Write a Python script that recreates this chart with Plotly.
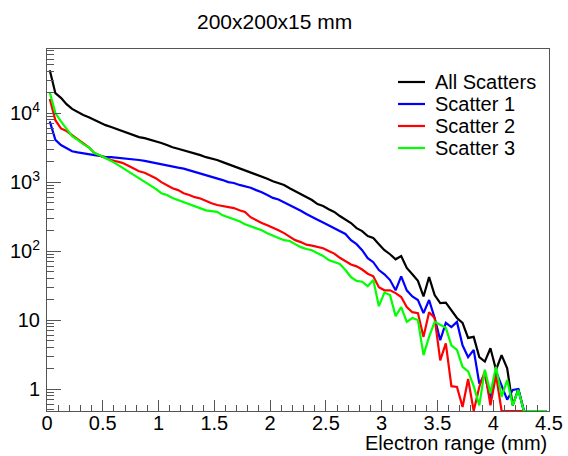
import math
import plotly.graph_objects as go

# ---- data ----
bin_width = 0.05
n_bins = 90
bin_centers = [round(bin_width * (i + 0.5), 4) for i in range(n_bins)]

all_scatters = [42000, 19500, 16700, 13500, 11500, 10300, 9400, 8700, 7900, 7200,
                6700, 6300, 5900, 5500, 5100, 4800, 4500, 4350, 4150, 3900,
                3700, 3450, 3200, 3050, 2900, 2770, 2640, 2460, 2300, 2200,
                2090, 1950, 1820, 1700, 1590, 1490, 1390, 1300, 1220, 1120,
                1030, 970, 910, 815, 740, 670, 605, 550, 480, 450,
                405, 370, 322, 290, 255, 215, 195, 165, 155, 126,
                103, 90, 76, 85, 57, 46, 37, 22, 42, 23,
                17.6, 17.9, 14, 10.7, 9.1, 5.5, 5.7, 2.9, 2.5, 3.9,
                1.9, 3.1, 2.0, 0.58, 1.0, 0, 0, 0, 0, 0]

scatter_1 = [7600, 4100, 3450, 3100, 2800, 2700, 2600, 2550, 2460, 2400,
             2300, 2300, 2260, 2230, 2200, 2150, 2090, 2030, 1950, 1900,
             1820, 1760, 1680, 1620, 1570, 1490, 1420, 1350, 1260, 1200,
             1140, 1070, 1000, 970, 910, 880, 830, 765, 715, 650,
             590, 560, 510, 465, 430, 385, 345, 310, 285, 260,
             235, 218, 195, 177, 144, 126, 103, 79, 69, 53,
             46, 38, 27, 43, 27, 22, 19.5, 12.6, 19.5, 10.7,
             5.1, 9.1, 7.9, 9.4, 4.3, 2.9, 3.7, 1.2, 1.6, 0.7,
             1.8, 1.1, 0.7, 0.97, 1.0, 0, 0, 0, 0, 0]

scatter_2 = [16000, 7900, 6000, 5500, 4800, 4200, 3700, 3200, 2640, 2400,
             2230, 2090, 2000, 1900, 1740, 1590, 1440, 1370, 1260, 1140,
             1000, 910, 815, 765, 690, 650, 605, 580, 530, 495,
             465, 450, 425, 420, 390, 370, 310, 280, 255, 237,
             215, 200, 182, 160, 144, 135, 124, 120, 116, 110,
             100, 92, 80, 72, 64, 60, 54, 47, 43, 30,
             27, 27, 24.6, 21.6, 15.4, 13, 12.6, 5.7, 13, 10.7,
             2.6, 4.6, 1.1, 1.07, 0.55, 1.4, 0, 1.07, 1.8, 0.58,
             1.6, 0, 0, 0, 0, 0, 0, 0, 0, 0]

scatter_3 = [20000, 10000, 7600, 6000, 4650, 4100, 3550, 3200, 2640, 2460,
             2260, 2030, 1820, 1620, 1440, 1300, 1140, 1030, 910, 800,
             690, 650, 590, 550, 515, 480, 450, 420, 390, 380,
             370, 330, 310, 290, 270, 245, 230, 215, 200, 182,
             170, 155, 144, 140, 126, 114, 107, 103, 93, 85,
             74, 69, 65, 53, 42, 37, 36, 31, 38, 15.9,
             25, 23, 11.4, 15.4, 9.4, 10.7, 10, 3.1, 5.7, 9.4,
             8.5, 7.7, 4.3, 3.7, 2.1, 1.8, 1.1, 0.58, 1.9, 0.87,
             2.1, 0.77, 1.35, 0.58, 0.97, 0, 0, 0, 0, 0]

series_names = ["All Scatters", "Scatter 1", "Scatter 2", "Scatter 3"]
series_values = [all_scatters, scatter_1, scatter_2, scatter_3]
series_colors = ["#000000", "#0000ff", "#ff0000", "#00ff00"]

y_major_vals = [1, 10, 100, 1000, 10000]
y_major_text = ["1", "10", "10<sup>2</sup>", "10<sup>3</sup>", "10<sup>4</sup>"]
x_major_dtick = 0.5

Y_MIN = 0.48
Y_MAX_LOG = 4.93
FONT = "Liberation Sans, Arial, Helvetica, sans-serif"
AXC = "#555555"

# plot-area geometry (pixels) used only for placing the legend box
L, R, T, B = 47, 549, 49, 411
def px_x(p):
    return (p - L) / (R - L)
def px_y(p):
    return (B - p) / (B - T)

fig = go.Figure()
for name, vals, col in zip(series_names, series_values, series_colors):
    yplot = [v if v > 0 else Y_MIN for v in vals]
    fig.add_trace(go.Scatter(x=bin_centers, y=yplot, mode="lines", name=name,
                             line=dict(color=col, width=2.2), showlegend=False))

minor_y = [m * 10 ** k for k in range(-1, 5) for m in range(2, 10)
           if Y_MIN <= m * 10 ** k <= 10 ** Y_MAX_LOG]

# legend drawn as a box of line samples + labels (ROOT-like spacing)
legend_rows = [82, 104, 126, 148]
shapes = []
annotations = []
for name, col, row in zip(series_names, series_colors, legend_rows):
    shapes.append(dict(type="line", xref="paper", yref="paper",
                       x0=px_x(398), x1=px_x(425), y0=px_y(row), y1=px_y(row),
                       line=dict(color=col, width=2.2)))
    annotations.append(dict(text=name, xref="paper", yref="paper",
                            x=px_x(433), y=px_y(row), xanchor="left", yanchor="middle",
                            showarrow=False, font=dict(family=FONT, size=20, color="black")))

annotations += [
    dict(text="200x200x15 mm", xref="paper", yref="paper",
         x=px_x(274.5), y=px_y(22), xanchor="center", yanchor="middle",
         showarrow=False, font=dict(family=FONT, size=21, color="black")),
    dict(text="Electron range (mm)", xref="paper", yref="paper",
         x=1.0, y=px_y(443), xanchor="right", yanchor="middle",
         showarrow=False, font=dict(family=FONT, size=20, color="black")),
]

fig.update_layout(
    width=568, height=456,
    margin=dict(l=L, r=568 - R, t=T, b=456 - B, autoexpand=False),
    paper_bgcolor="white", plot_bgcolor="white",
    font=dict(family=FONT, size=20, color="black"),
    showlegend=False,
    xaxis=dict(range=[0, 4.5], tick0=0, dtick=x_major_dtick, automargin=False,
               ticks="inside", ticklen=11, tickwidth=1, tickcolor=AXC,
               ticklabelstandoff=-6,
               minor=dict(dtick=0.1, ticks="inside", ticklen=6, tickcolor=AXC, showgrid=False),
               showline=True, linecolor=AXC, linewidth=1, mirror=True,
               showgrid=False, zeroline=False,
               tickfont=dict(family=FONT, size=20, color="black")),
    yaxis=dict(type="log", range=[math.log10(Y_MIN), Y_MAX_LOG], automargin=False,
               tickmode="array", tickvals=y_major_vals, ticktext=y_major_text,
               ticks="inside", ticklen=14, tickwidth=1, tickcolor=AXC,
               ticklabelstandoff=2,
               minor=dict(tickvals=minor_y, ticks="inside", ticklen=7, tickcolor=AXC, showgrid=False),
               showline=True, linecolor=AXC, linewidth=1, mirror=True,
               showgrid=False, zeroline=False,
               tickfont=dict(family=FONT, size=20, color="black")),
    shapes=shapes,
    annotations=annotations,
)

fig.write_html("out.html", config={"displayModeBar": False},
               post_script="document.body.style.margin='0';document.body.style.overflow='hidden';")
